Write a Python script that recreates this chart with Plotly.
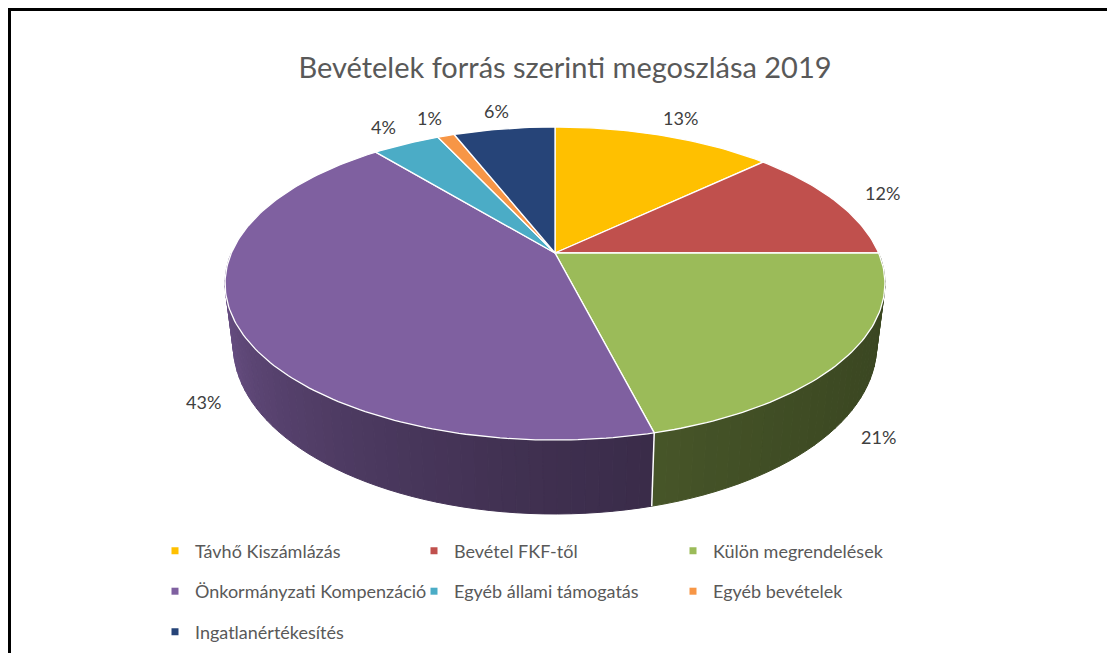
import numpy as np
import plotly.graph_objects as go

# data
categories = ["Távhő Kiszámlázás", "Bevétel FKF-től", "Külön megrendelések",
              "Önkormányzati Kompenzáció", "Egyéb állami támogatás", "Egyéb bevételek",
              "Ingatlanértékesítés"]
shares = [13, 12, 21, 43, 4, 1, 6]
colors = ["#FFC000", "#C0504D", "#9BBB59", "#7F60A0", "#4BACC6", "#F79646", "#264478"]
title_text = "Bevételek forrás szerinti megoszlása 2019"

W, H = 1115, 653
PAGE_PAD = 8          # browser body margin around the plot div
FONT = "Lato"

# geometry of the tilted disc, in screen pixels (perspective: far side is smaller)
CX, CY = 555, 253
RX, RY = 323.6, 150.6
PERSP = 0.195
DEPTH = 59.5
BOTTOM_SHRINK = 0.975


def px(x):
    return (x - PAGE_PAD) / (W - PAGE_PAD)


def py(y):
    return 1 - (y - PAGE_PAD) / (H - PAGE_PAD)


def top_xy(phi, r=1.0):
    u = r * np.sin(phi)
    v = r * np.cos(phi)
    w = 1 + PERSP * v
    return CX + RX * u / w, CY - RY * v / w


def bottom_xy(phi):
    x, y = top_xy(phi)
    w = 1 + PERSP * np.cos(phi)
    return CX + (x - CX) * BOTTOM_SHRINK, y + DEPTH / w


def shade(hex_color, phi_deg):
    t = np.clip((phi_deg - 100) / 160, 0, 1)
    f = 0.38 + 0.47 * t ** 2
    r, g, b = (int(hex_color[i:i + 2], 16) for i in (1, 3, 5))
    return f"rgb({int(r * f)},{int(g * f)},{int(b * f)})"


total = sum(shares)
bounds = np.concatenate([[0], np.cumsum(shares)]) / total * 360.0

fig = go.Figure()

# side walls, only the front half is visible; draw far segments first
segments = []
for i, c in enumerate(colors):
    a0, a1 = max(bounds[i], 90), min(bounds[i + 1], 270)
    if a1 <= a0:
        continue
    edges = np.linspace(a0, a1, max(2, int((a1 - a0) / 2) + 1))
    for s0, s1 in zip(edges[:-1], edges[1:]):
        segments.append((np.cos(np.radians((s0 + s1) / 2)), s0, s1, c))
segments.sort(key=lambda s: -s[0])

for _, s0, s1, c in segments:
    p0, p1 = np.radians(s0), np.radians(s1)
    tx0, ty0 = top_xy(p0)
    tx1, ty1 = top_xy(p1)
    bx0, by0 = bottom_xy(p0)
    bx1, by1 = bottom_xy(p1)
    col = shade(c, (s0 + s1) / 2)
    fig.add_trace(go.Scatter(
        x=[tx0, tx1, bx1, bx0, tx0], y=[ty0, ty1, by1, by0, ty0],
        mode="lines", fill="toself", fillcolor=col,
        line=dict(color=col, width=1), hoverinfo="skip", showlegend=False))

# white seams between slices on the wall
for a in bounds[1:-1]:
    if 100 < a < 260:
        p = np.radians(a)
        tx, ty = top_xy(p)
        bx, by = bottom_xy(p)
        fig.add_trace(go.Scatter(x=[tx, bx], y=[ty, by], mode="lines",
                                 line=dict(color="white", width=1.5),
                                 hoverinfo="skip", showlegend=False))

# top faces
for i, c in enumerate(colors):
    phis = np.radians(np.linspace(bounds[i], bounds[i + 1], max(3, int(shares[i] * 3.6))))
    xs, ys = top_xy(phis)
    fig.add_trace(go.Scatter(
        x=np.concatenate([[CX], xs, [CX]]), y=np.concatenate([[CY], ys, [CY]]),
        mode="lines", fill="toself", fillcolor=c,
        line=dict(color="white", width=1.3), hoverinfo="skip", showlegend=False))

# data labels outside the slices
for i, s in enumerate(shares):
    mid = np.radians((bounds[i] + bounds[i + 1]) / 2)
    near = np.cos(mid) < 0
    lx, ly = top_xy(mid, 1.1 if near else 1.18)
    if near:
        ly += DEPTH / (1 + PERSP * np.cos(mid))
    fig.add_annotation(x=lx, y=ly, text=f"{s}%", showarrow=False,
                       font=dict(family=FONT, size=18, color="#404040"))

# legend: three rows, one legend per row
legend_rows = ["legend", "legend2", "legend3"]
for i, (cat, c) in enumerate(zip(categories, colors)):
    fig.add_trace(go.Scatter(
        x=[None], y=[None], mode="markers", name=cat,
        marker=dict(symbol="square", size=7, color=c),
        legend=legend_rows[i // 3], hoverinfo="skip"))

leg_common = dict(orientation="h", xanchor="left", yanchor="middle",
                  entrywidth=214, entrywidthmode="pixels",
                  font=dict(family=FONT, size=18, color="#595959"),
                  bgcolor="rgba(0,0,0,0)")
layout_legends = {}
for k, name in enumerate(legend_rows):
    layout_legends[name] = dict(leg_common, x=px(155), y=py(551 + 40.5 * k))

# chart frame (left and top edges are what shows in the crop)
fig.add_shape(type="line", x0=9.5, x1=9.5, y0=9.5, y1=H + 5, line=dict(color="black", width=3))
fig.add_shape(type="line", x0=8, x1=W + 5, y0=9.5, y1=9.5, line=dict(color="black", width=3))

fig.update_layout(
    width=W - PAGE_PAD, height=H - PAGE_PAD,
    margin=dict(l=0, r=0, t=0, b=0),
    paper_bgcolor="white", plot_bgcolor="white",
    title=dict(text=title_text, x=px(565), y=py(68), xanchor="center", yanchor="middle",
               font=dict(family=FONT, size=29, color="#595959")),
    xaxis=dict(range=[PAGE_PAD, W], visible=False, fixedrange=True),
    yaxis=dict(range=[H, PAGE_PAD], visible=False, fixedrange=True),
    showlegend=True,
    **layout_legends,
)

fig.write_html("out.html")
